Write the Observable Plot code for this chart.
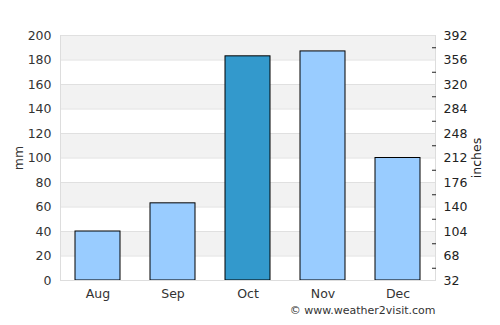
<!DOCTYPE html>
<html><head><meta charset="utf-8">
<script src="https://cdn.jsdelivr.net/npm/d3@7"></script>
<script src="https://cdn.jsdelivr.net/npm/@observablehq/plot@0.6"></script>
<style>
html,body{margin:0;padding:0;background:#fff;}
#chart svg{font-family:"DejaVu Sans",sans-serif;display:block;}
</style>
</head><body><div id="chart"></div>
<script>
const months = ["Aug","Sep","Oct","Nov","Dec"];
const rainfall = [40, 63, 183, 187, 100];
const highlight = [false, false, true, false, false];
const leftTicks = [0,20,40,60,80,100,120,140,160,180,200];
const rightTickLabels = [32,68,104,140,176,212,248,284,320,356,392];
const minorTicksMm = [10,30,50,70,90,110,130,150,170,190];
const bandStarts = [20,60,100,140,180];

const data = months.map((m,i)=>({month:m, value:rainfall[i], hi:highlight[i]}));
const bands = bandStarts.map(s=>({y1:s, y2:s+20}));
const rightTicks = rightTickLabels.map(v=>({mm:(v-32)/1.8, label:v}));

const chart = Plot.plot({
  width: 500, height: 325,
  marginTop: 35, marginBottom: 45, marginLeft: 60, marginRight: 65,
  style:{fontFamily:"DejaVu Sans, sans-serif", fontSize:"12px", color:"#333"},
  x:{domain:months, paddingInner:0.4, paddingOuter:0.2, label:null},
  y:{domain:[0,200], label:null},
  marks:[
    Plot.rectY(bands, {y1:"y1", y2:"y2", fill:"#f2f2f2"}),
    Plot.ruleY(leftTicks, {stroke:"#e0e0e0"}),
    Plot.barY(data, {x:"month", y:"value", fill:d=>d.hi?"#3399cc":"#99ccff", stroke:"#000", strokeWidth:1, insetLeft:0, insetRight:0}),
    Plot.frame({anchor:"left", stroke:"#ddd"}),
    Plot.frame({anchor:"right", stroke:"#ddd"}),
    Plot.frame({anchor:"bottom", stroke:"#ddd"}),
    Plot.axisY({anchor:"left", ticks:leftTicks, tickSize:0, tickPadding:9, label:"mm", labelAnchor:"center", labelArrow:"none", labelOffset:46, fill:"#333", fontSize:12.5}),
    Plot.axisY({anchor:"right", ticks:minorTicksMm, tickSize:-4, tickFormat:()=>"", label:null, stroke:"#222"}),
    Plot.axisY({anchor:"right", ticks:rightTicks.map(d=>d.mm), tickFormat:(d)=>String(Math.round(d*1.8+32)), tickSize:0, tickPadding:8, label:"inches", labelAnchor:"center", labelArrow:"none", labelOffset:45, fill:"#222", fontSize:12.5}),
    Plot.axisX({tickSize:0, tickPadding:9, label:null, fill:"#333", fontSize:12.5}),
    Plot.text(["© www.weather2visit.com"], {frameAnchor:"bottom-right", dy:33, textAnchor:"end", fill:"#333", fontSize:11})
  ]
});
document.getElementById("chart").appendChild(chart);
</script>
</body></html>
